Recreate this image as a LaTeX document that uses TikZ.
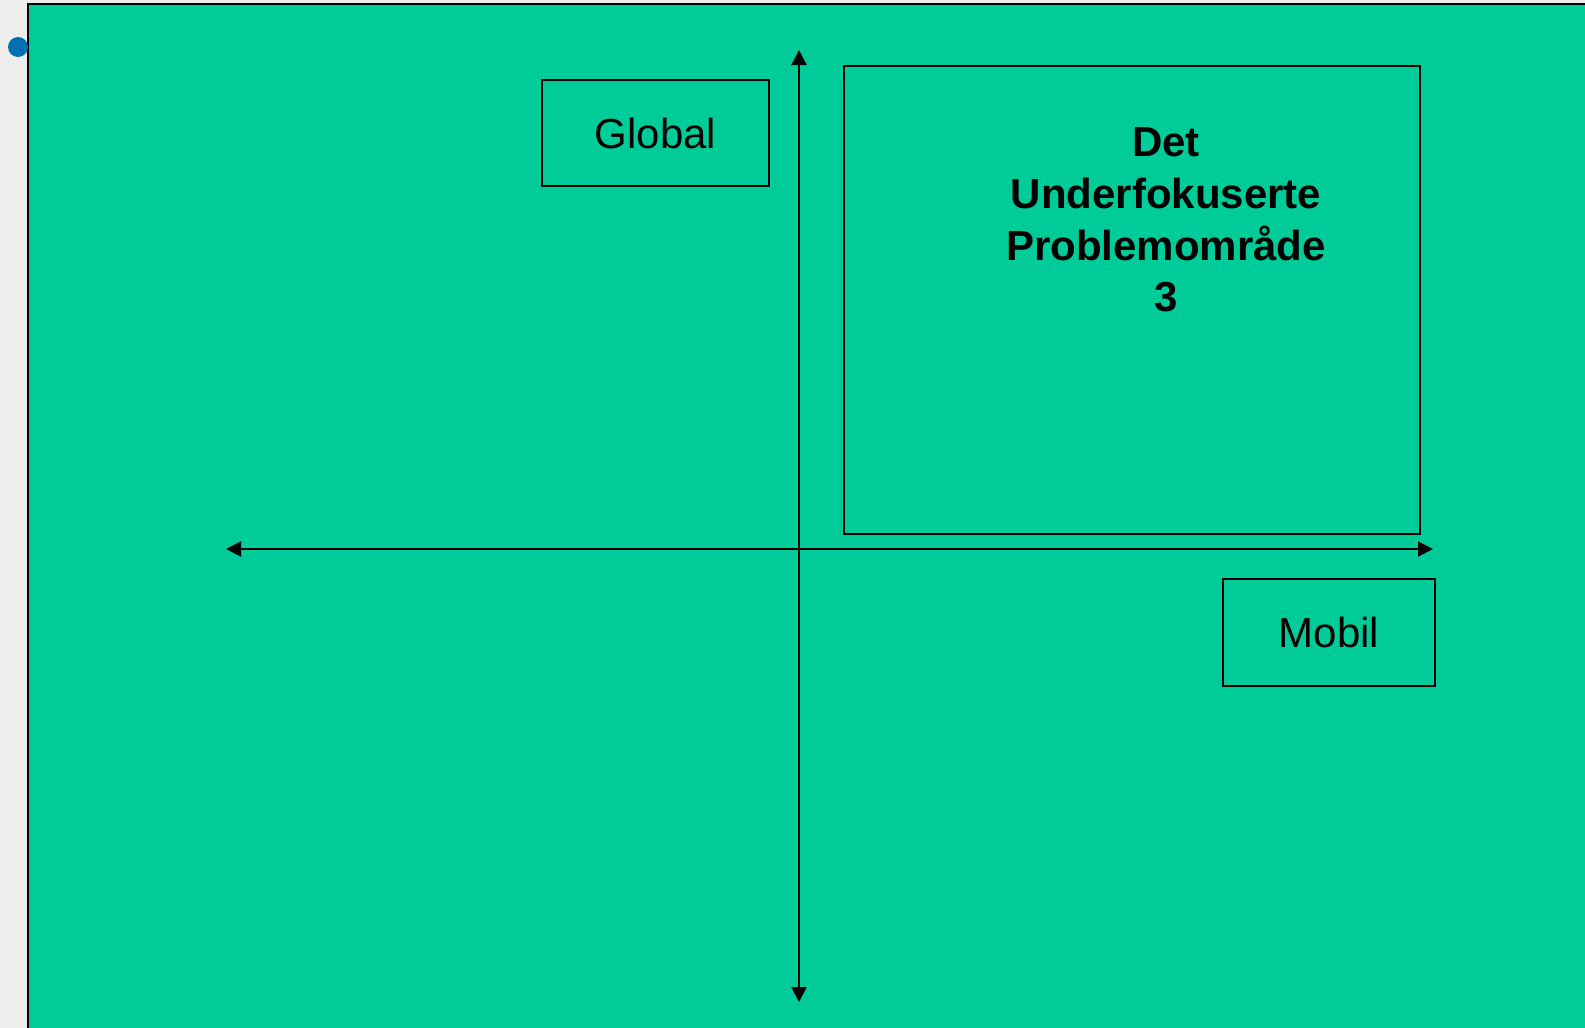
\documentclass[tikz,border=0pt]{standalone}
\usepackage{fontspec}
\setmainfont{Liberation Sans}
\usetikzlibrary{arrows.meta,positioning}
\definecolor{slidegreen}{RGB}{0,204,153}
\definecolor{slidegrey}{RGB}{238,237,237}
\definecolor{bulletblue}{RGB}{0,112,176}
\begin{document}
\begin{tikzpicture}[x=1pt, y=-1pt, line width=2pt,
		box/.style = {draw, rectangle, inner sep=0pt},
		axis/.style = {{Triangle[length=15pt,width=15pt]}-{Triangle[length=15pt,width=15pt]}},
		label/.style = {font=\fontsize{42}{51.6}\selectfont, align=center, inner sep=0pt}]
		\useasboundingbox (0,0) rectangle (1585,1028);
		\fill[slidegrey] (0,0) rectangle (1585,1028);
		\draw[fill=slidegreen] (28,4) rectangle (1600,1040);
		\fill[bulletblue] (18,47) circle (10);
		% axes
		\coordinate (top) at (799,50);
		\coordinate (bottom) at (799,1002);
		\coordinate (left) at (226,549);
		\coordinate (right) at (1433,549);
		\draw[axis] (top) -- (bottom);
		\draw[axis] (left) -- (right);
		% boxes
		\node[box, minimum width=227pt, minimum height=106pt] (global) at (655.5,133) {};
		\node[label] (globaltext) at (global.center) {Global};
		\node[box, minimum width=212pt, minimum height=107pt] (mobil) at (1329,632.5) {};
		\node[label] (mobiltext) at (mobil.center) {Mobil};
		\node[box, minimum width=576pt, minimum height=468pt] (problem) at (1132,300) {};
		\node[label, font=\fontsize{42}{51.6}\selectfont\bfseries, anchor=north] (problemtext) at (1166,127) {Det\\Underfokuserte\\Problemområde\\3};
	\end{tikzpicture}
\end{document}
